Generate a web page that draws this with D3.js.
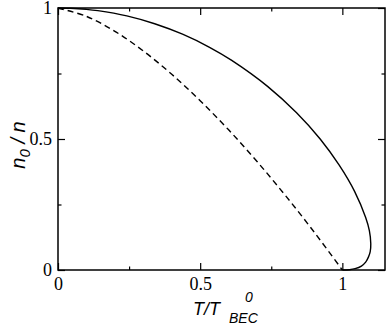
<!DOCTYPE html>
<html><head><meta charset="utf-8">
<script src="https://cdn.jsdelivr.net/npm/d3@7"></script>
<style>body{margin:0;background:#fff}svg{display:block}</style>
</head><body>
<script>
// Data (T/T0_BEC, n0/n)
const solidT = [0, 0.044, 0.099, 0.140, 0.242, 0.340, 0.438, 0.533, 0.611, 0.738, 0.839, 0.922, 0.989, 1.043, 1.082, 1.095, 1.100, 1.098, 1.092, 1.082, 1.067, 1.045, 1.025, 1.0];
const solidF = [1, 0.999, 0.995, 0.990, 0.970, 0.940, 0.900, 0.850, 0.800, 0.700, 0.600, 0.500, 0.400, 0.300, 0.200, 0.150, 0.100, 0.070, 0.050, 0.030, 0.015, 0.005, 0.001, 0];
const dashT = [0, 0.1, 0.2, 0.3, 0.4, 0.5, 0.6, 0.7, 0.8, 0.9, 1.0];
const dashF = [1, 0.968, 0.911, 0.836, 0.747, 0.646, 0.535, 0.414, 0.284, 0.146, 0];
const xMajor = [0, 0.5, 1];
const xMinor = [0.25, 0.75];
const yMajor = [0, 0.5, 1];
const yMinor = [0.25, 0.75];
const xTickLabels = ["0", "0.5", "1"];
const yTickLabels = ["0", "0.5", "1"];

const W = 388, H = 326;
const svg = d3.select("body").append("svg").attr("width", W).attr("height", H);
const x = d3.scaleLinear().domain([0, 1.15]).range([58, 385]);
const y = d3.scaleLinear().domain([0, 1]).range([270, 8]);

const serif = "'Liberation Serif','Times New Roman',serif";
const sans = "'Liberation Sans',Arial,sans-serif";

// curves
const line = d3.line().x(d => x(d[0])).y(d => y(d[1])).curve(d3.curveCatmullRom.alpha(0.5));
svg.append("path").datum(dashT.map((t, i) => [t, dashF[i]]))
  .attr("d", line).attr("fill", "none").attr("stroke", "#000").attr("stroke-width", 1.4)
  .attr("stroke-dasharray", "6,4");
svg.append("path").datum(solidT.map((t, i) => [t, solidF[i]]))
  .attr("d", line).attr("fill", "none").attr("stroke", "#000").attr("stroke-width", 1.4);

// axes with inward ticks on all sides
function addAxis(axisGen, transform) {
  const g = svg.append("g").attr("transform", transform).call(axisGen);
  g.select(".domain").remove();
  g.selectAll("line").attr("stroke", "#000").attr("stroke-width", 1.2);
  return g;
}
const ih = 262, iw = 327;
// bottom
addAxis(d3.axisBottom(x).tickValues(xMajor).tickSize(-7).tickPadding(7).tickFormat((d, i) => xTickLabels[i]), "translate(0,270)")
  .selectAll("text").attr("font-family", serif).attr("font-size", 18).attr("fill", "#000");
addAxis(d3.axisBottom(x).tickValues(xMinor).tickSize(-3.5).tickFormat(""), "translate(0,270)");
// top
addAxis(d3.axisTop(x).tickValues(xMajor).tickSize(-7).tickFormat(""), "translate(0,8)");
addAxis(d3.axisTop(x).tickValues(xMinor).tickSize(-3.5).tickFormat(""), "translate(0,8)");
// left
addAxis(d3.axisLeft(y).tickValues(yMajor).tickSize(-7).tickPadding(6).tickFormat((d, i) => yTickLabels[i]), "translate(58,0)")
  .selectAll("text").attr("font-family", serif).attr("font-size", 18).attr("fill", "#000");
addAxis(d3.axisLeft(y).tickValues(yMinor).tickSize(-3.5).tickFormat(""), "translate(58,0)");
// right
addAxis(d3.axisRight(y).tickValues(yMajor).tickSize(-7).tickFormat(""), "translate(385,0)");
addAxis(d3.axisRight(y).tickValues(yMinor).tickSize(-3.5).tickFormat(""), "translate(385,0)");

// frame
svg.append("rect").attr("x", 58).attr("y", 8).attr("width", iw).attr("height", ih)
  .attr("fill", "none").attr("stroke", "#000").attr("stroke-width", 1.5);

// x label
svg.append("text").attr("x", 193).attr("y", 315)
  .attr("font-family", sans).attr("font-style", "italic").attr("font-size", 18).attr("fill", "#000")
  .text("T/T");
svg.append("text").attr("x", 245).attr("y", 302).attr("font-family", sans).attr("font-style", "italic")
  .attr("font-size", 14).text("0");
svg.append("text").attr("x", 229).attr("y", 323).attr("font-family", sans).attr("font-style", "italic")
  .attr("font-size", 14).text("BEC");

// y label
const yl = svg.append("text").attr("transform", "translate(25,145) rotate(-90)")
  .attr("text-anchor", "middle").attr("font-family", sans).attr("font-style", "italic")
  .attr("font-size", 20).attr("fill", "#000");
yl.append("tspan").text("n");
yl.append("tspan").attr("dy", 5).attr("font-size", 15).text("0");
yl.append("tspan").attr("dy", -5).text(" / n");
</script>
</body></html>
